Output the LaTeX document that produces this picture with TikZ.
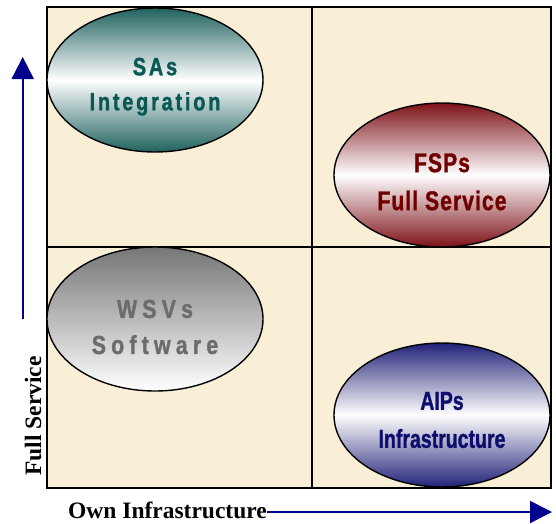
\documentclass[tikz,border=0pt]{standalone}
\usepackage{fontspec}
\setmainfont{Liberation Serif}
\usetikzlibrary{shapes.geometric,arrows.meta}
\newfontfamily\fSA[FakeStretch=0.8,LetterSpace=11,FakeBold=1.2]{Liberation Sans}
\newfontfamily\fFS[FakeStretch=0.78,LetterSpace=4,FakeBold=1.2]{Liberation Sans}
\newfontfamily\fWS[FakeStretch=0.82,LetterSpace=20,FakeBold=1.2]{Liberation Sans}
\newfontfamily\fAI[FakeStretch=0.75,FakeBold=1.2]{Liberation Sans}
\definecolor{paper}{RGB}{249,238,214}
\definecolor{teal1}{RGB}{32,98,94}
\definecolor{tealtxt}{RGB}{10,88,84}
\definecolor{red1}{RGB}{125,18,24}
\definecolor{redtxt}{RGB}{112,0,0}
\definecolor{gray1}{RGB}{118,118,118}
\definecolor{graytxt}{RGB}{108,108,108}
\definecolor{navy1}{RGB}{34,34,120}
\definecolor{navytxt}{RGB}{14,14,108}
\definecolor{axiscol}{RGB}{0,0,140}
\begin{document}
\begin{tikzpicture}[x=1pt,y=-1pt,
  gridline/.style={draw=black,line width=2pt},
  oval/.style={ellipse,draw=black,line width=1.4pt,minimum width=216pt,minimum height=144pt,inner sep=0pt},
  lbl/.style={inner sep=0pt,align=center},
  axislbl/.style={inner sep=0pt,font=\fontsize{23.5}{28}\selectfont\bfseries},
  axisarrow/.style={draw=axiscol,line width=2pt,-{Triangle[length=22pt,width=22pt]}}]
\useasboundingbox (0,0) rectangle (556,523);
% quadrant board
\fill[paper] (47,7) rectangle (551,488);
\draw[gridline] (47,7) rectangle (551,488);
\draw[gridline] (312,7) -- (312,488);
\draw[gridline] (47,247) -- (551,247);
% ellipses
\node[oval,top color=teal1,bottom color=teal1,middle color=white] (sas) at (155,80) {};
\node[oval,top color=red1,bottom color=red1,middle color=white] (fsp) at (442,175) {};
\node[oval,top color=gray1,bottom color=white] (wsv) at (155,319) {};
\node[oval,top color=navy1,bottom color=navy1,middle color=white] (aip) at (442,415) {};
% labels
\node[lbl,text=tealtxt,font=\fSA\bfseries\fontsize{25}{35}\selectfont] (sas-t) at ([yshift=-6.7pt]sas.center) {SAs\\Integration};
\node[lbl,text=redtxt,font=\fFS\bfseries\fontsize{27}{38}\selectfont] (fsp-t) at ([yshift=-6.8pt]fsp.center) {FSPs\\Full Service};
\node[lbl,text=graytxt,font=\fWS\bfseries\fontsize{26}{36}\selectfont] (wsv-t) at ([yshift=-8pt]wsv.center) {WSVs\\Software};
\node[lbl,text=navytxt,font=\fAI\bfseries\fontsize{26}{38}\selectfont] (aip-t) at ([yshift=-5pt]aip.center) {AIPs\\Infrastructure};
% axes
\node[axislbl,rotate=90] (ylab) at (33,416) {Full Service};
\node[axislbl] (xlab) at (167.5,510) {Own Infrastructure};
\coordinate (ys) at (22.7,319);
\coordinate (ye) at (22.7,57);
\coordinate (xe) at (552,512);
\draw[axisarrow] (ys) -- (ye);
\draw[axisarrow] (xlab.east |- xe) -- (xe);
\end{tikzpicture}
\end{document}
